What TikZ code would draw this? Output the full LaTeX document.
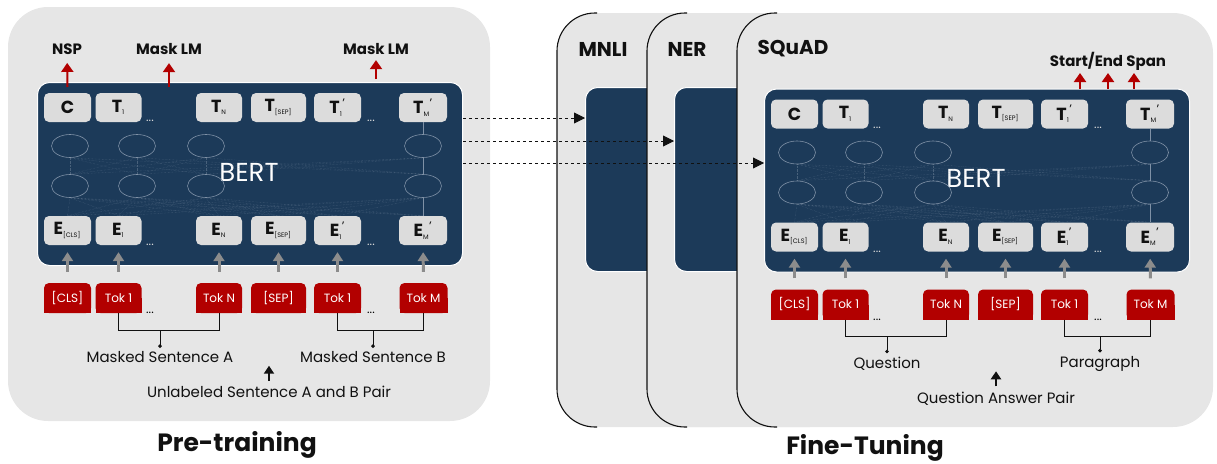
\documentclass[tikz,border=0pt]{standalone}
\usepackage{fontspec}
\setmainfont{Poppins}
\usetikzlibrary{positioning,arrows.meta,calc,shapes.geometric}
\definecolor{ink}{HTML}{111111}
\definecolor{panel}{HTML}{E6E6E6}
\definecolor{bertblue}{HTML}{1C3A59}
\definecolor{chipgray}{HTML}{DCDCDC}
\definecolor{tokred}{HTML}{B20000}
\definecolor{arrgray}{HTML}{8C8C8C}
\definecolor{wire}{HTML}{7F91A6}
\newcommand\emb[3]{\textbf{#1}\textsubscript{\fontsize{6.5}{6.5}\selectfont#2}\textsuperscript{#3}}
\tikzset{
  panelbg/.style={fill=panel, rounded corners=40pt},
  rim/.style={draw=ink, line width=1.1pt, rounded corners=38pt},
  bertbox/.style={fill=bertblue, draw=white, line width=1pt, rounded corners=12pt, inner sep=0pt},
  cell/.style={fill=chipgray, rounded corners=5pt, minimum height=29pt, inner sep=0pt,
    font=\fontsize{17.5}{17.5}\selectfont, text=ink},
  tok/.style={fill=tokred, rounded corners=5pt, minimum height=30pt, inner sep=0pt,
    font=\fontsize{12}{12}\selectfont, text=white},
  neuron/.style={ellipse, draw=wire, line width=0.6pt, minimum width=37pt, minimum height=23pt, inner sep=0pt},
  faint/.style={wire, line width=0.4pt, densely dotted, opacity=0.45},
  feed/.style={-{Triangle[length=9pt,width=11pt]}, line width=3pt, arrgray},
  outflow/.style={-{Triangle[length=9pt,width=12pt]}, line width=2pt, tokred},
  rise/.style={-{Triangle[length=8pt,width=10pt]}, line width=2pt, ink},
  xfer/.style={-{Triangle[length=11pt,width=11pt]}, dashed, line width=0.9pt, ink},
  brk/.style={line width=1pt, ink},
  tag/.style={font=\bfseries\fontsize{15}{15}\selectfont, text=ink},
  task/.style={font=\bfseries\fontsize{20}{20}\selectfont, text=ink},
  lbl/.style={font=\fontsize{15}{15}\selectfont, text=ink},
  bigtitle/.style={font=\bfseries\fontsize{25}{25}\selectfont, text=ink},
  dots/.style={font=\fontsize{12}{12}\selectfont, inner sep=0pt, anchor=south},
}
% one BERT block with its input tokens: prefix, shift, two segment labels, pair label
\newcommand\bertblock[5]{%
\begin{scope}[shift={#2}]
  \node[bertbox, minimum width=425pt, minimum height=183pt, anchor=north west] (#1bert) at (37,82) {};
  \node[font=\fontsize{26}{26}\selectfont, text=white] (#1name) at (249,172) {BERT};
  \foreach \nx [count=\i] in {70,137,206,423} {
    \node[neuron] (#1ua\i) at (\nx,146) {};
    \node[neuron] (#1ub\i) at (\nx,186) {};
  }
  \foreach \cx/\cw/\cn/\ct in {67.5/47/c/\textbf{C}, 118.5/46/t1/\emb{T}{1}{}, 219/46/tn/\emb{T}{N}{},
      278.5/55/ts/\emb{T}{[SEP]}{}, 337.5/47/tp/\emb{T}{1}{'}, 423/48/tm/\emb{T}{M}{'}}
    \node[cell, minimum width=\cw] (#1\cn) at (\cx,107.5) {\ct};
  \foreach \cx/\cw/\cn/\ct in {67.5/47/ec/\emb{E}{[CLS]}{}, 118.5/46/e1/\emb{E}{1}{}, 219/46/en/\emb{E}{N}{},
      278.5/55/es/\emb{E}{[SEP]}{}, 337.5/47/ep/\emb{E}{1}{'}, 423/48/em/\emb{E}{M}{'}}
    \node[cell, minimum width=\cw] (#1\cn) at (\cx,230.5) {\ct};
  \foreach \i in {1,...,4} {
    \foreach \j in {1,...,4} \draw[faint] (#1ua\i.south) -- (#1ub\j.north);
    \foreach \cn in {ec,e1,en,es,ep,em} \draw[faint] (#1ub\i.south) -- (#1\cn.north);
  }
  \draw[wire, line width=0.6pt] (#1tm) -- (#1ua4) -- (#1ub4) -- (#1em);
  \node[dots, text=chipgray] (#1da) at (150,122) {...};
  \node[dots, text=chipgray] (#1db) at (371,122) {...};
  \node[dots, text=chipgray] (#1dc) at (150,246) {...};
  \node[dots, text=chipgray] (#1dd) at (371,246) {...};
  \foreach \cx/\cw/\cn/\ct in {67.5/47/kc/[CLS], 118.5/46/k1/Tok 1, 219/46/kn/Tok N,
      278.5/55/ks/[SEP], 337.5/47/kp/Tok 1, 423.5/48/km/Tok M} {
    \fill[tokred] (\cx-\cw/2,298) rectangle (\cx+\cw/2,313);
    \node[tok, minimum width=\cw] (#1\cn) at (\cx,298) {\ct};
  }
  \foreach \k/\e in {kc/ec, k1/e1, kn/en, ks/es, kp/ep, km/em}
    \draw[feed, shorten <=11pt, shorten >=7pt] (#1\k) -- (#1\e);
  \node[dots] (#1de) at (150,314) {...};
  \node[dots] (#1df) at (371,314) {...};
  \node[lbl] (#1sa) at (160,357) {#3};
  \node[lbl] (#1sb) at (373,357) {#4};
  \coordinate (#1ja) at ($(#1k1.south)+(0,17)$);
  \coordinate (#1jb) at ($(#1kp.south)+(0,17)$);
  \draw[brk] (#1k1.south) -- (#1ja) -| (#1kn.south);
  \draw[brk] (#1kp.south) -- (#1jb) -| (#1km.south);
  \draw[brk, -{Circle[length=3.5pt]}] (#1sa.north |- #1ja) -- (#1sa.north);
  \draw[brk, -{Circle[length=3.5pt]}] (#1sb.north |- #1jb) -- (#1sb.north);
  \node[lbl] (#1pair) at (269,392) {#5};
  \draw[rise] ([yshift=2pt]#1pair.north) -- ++(0,-15);
\end{scope}}

\begin{document}
\begin{tikzpicture}[x=1pt,y=-1pt]
  \useasboundingbox (0,0) rectangle (1217,463);
  % pre-training
  \fill[panelbg] (8,7) rectangle (490,421);
  \bertblock{l}{(0,0)}{Masked Sentence A}{Masked Sentence B}{Unlabeled Sentence A and B Pair}
  \node[tag] (nsp) at (67,49) {NSP};
  \node[tag] (mlma) at (169,49) {Mask LM};
  \node[tag] (mlmb) at (376,49) {Mask LM};
  \draw[outflow, shorten >=5pt] ([yshift=-5pt]lbert.north -| lc) -- (nsp);
  \draw[outflow, shorten >=5pt] ([yshift=-5pt]lbert.north -| mlma) -- (mlma);
  \draw[outflow, shorten >=2pt] ([yshift=3pt]lbert.north -| mlmb) -- (mlmb);
  \node[bigtitle] (pre) at (237,445) {Pre-training};
  % fine-tuning stack
  \fill[panelbg] (557,13) rectangle (760,427);
  \draw[rim] (597,13) -- (557,13) -- (557,427) -- (597,427);
  \node[bertbox, minimum width=135pt, minimum height=184pt, anchor=north west] (mnlibox) at (585,87) {};
  \node[task] (mnli) at (603,49) {MNLI};
  \fill[panelbg] (647,13) rectangle (850,427);
  \draw[rim] (687,13) -- (647,13) -- (647,427) -- (687,427);
  \node[bertbox, minimum width=135pt, minimum height=184pt, anchor=north west] (nerbox) at (674,87) {};
  \node[task] (ner) at (687,49) {NER};
  \fill[panelbg] (737,13) rectangle (1213,427);
  \draw[rim] (777,13) -- (737,13) -- (737,427) -- (777,427);
  \node[task] (squad) at (793,49) {SQuAD};
  \bertblock{r}{(727,6.5)}{Question}{Paragraph}{Question Answer Pair}
  \node[tag] (span) at (1108,61) {Start/End Span};
  \foreach \x [count=\i] in {1080,1108,1134} {
    \coordinate (sp\i) at (\x,73);
    \draw[outflow] (sp\i |- rbert.north) -- (sp\i);
  }
  \node[bigtitle] (fine) at (865,448) {Fine-Tuning};
  % transfer of the pre-trained weights
  \draw[xfer] (lbert.east |- 0,118) -- (mnlibox.west |- 0,118);
  \draw[xfer] (lbert.east |- 0,141) -- (nerbox.west |- 0,141);
  \draw[xfer] (lbert.east |- 0,163) -- (rbert.west |- 0,163);
\end{tikzpicture}
\end{document}
